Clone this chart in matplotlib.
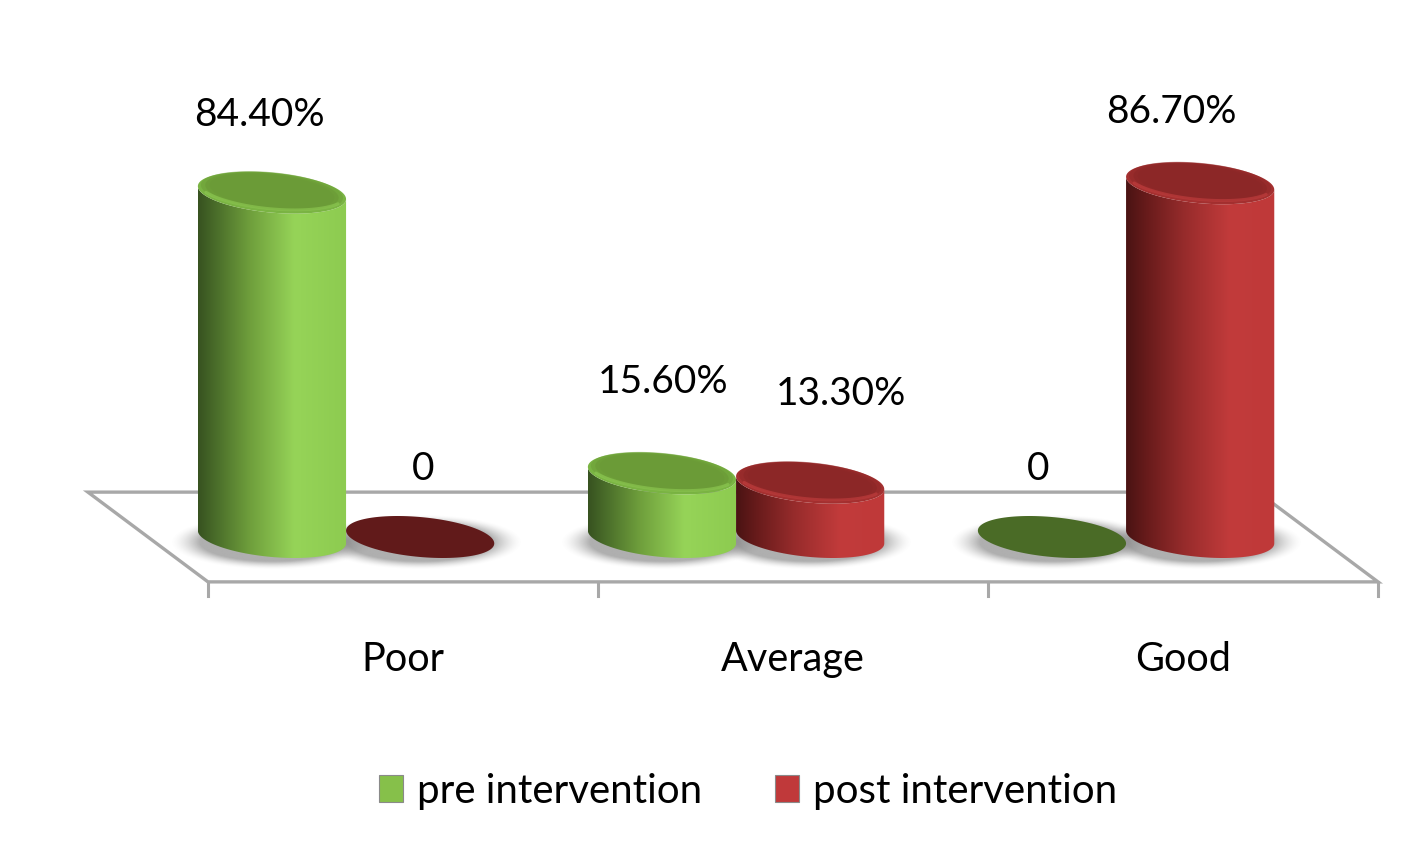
import numpy as np
import matplotlib.pyplot as plt
from matplotlib.colors import LinearSegmentedColormap, to_rgb
from matplotlib.patches import Polygon, Patch

categories = ['Poor', 'Average', 'Good']
series = ['pre intervention', 'post intervention']
pre_values = [84.4, 15.6, 0]
post_values = [0, 13.3, 86.7]
value_labels_pre = ['84.40%', '15.60%', '0']
value_labels_post = ['0', '13.30%', '86.70%']

plt.rcParams['font.family'] = ['Lato', 'DejaVu Sans']

fig = plt.figure(figsize=(14.09, 8.45), dpi=100)
ax = fig.add_axes([0, 0, 1, 1])
ax.set_axis_off()

# geometry (category units on x, percent on y)
depth_dx = -0.308     # shift of the back edge of the floor
floor_half = 11.0     # floor half depth in percent units
bar_a = 0.19          # half width of a cylinder
bar_b = 4.9           # half height of the ellipse
shear = 8.3           # tilt of the ellipses
bar_shift = depth_dx / 2 + 0.008
label_gap = 19
# small label nudges (points), like the hand-placed labels of the original
nudge_pre = [(-9, 1), (1, 11), (-10, -6)]
nudge_post = [(2, -6), (22, 9), (-21, -4)]


def ellipse_pts(cx, cy, t, a=bar_a, b=bar_b):
    x = cx + a * np.cos(t)
    y = cy + b * np.sin(t) - shear * bar_a * np.cos(t)
    return x, y


# floor
n = len(categories)
front_y, back_y = -floor_half, floor_half
floor = [(-0.5, front_y), (n - 0.5, front_y),
         (n - 0.5 + depth_dx, back_y), (-0.5 + depth_dx, back_y)]
ax.add_patch(Polygon(floor, closed=True, fc='white', ec='#a8a8a8', lw=2.4, zorder=1))
for i in range(n + 1):
    ax.plot([i - 0.5, i - 0.5], [front_y, front_y - 3.4], color='#a8a8a8', lw=2.2, zorder=1)

green = LinearSegmentedColormap.from_list(
    'g', [(0, '#375220'), (0.12, '#4a6d2a'), (0.35, '#6f9f3c'),
          (0.65, '#96d458'), (1, '#8dcb50')])
red = LinearSegmentedColormap.from_list(
    'r', [(0, '#4a1313'), (0.15, '#6a1c1c'), (0.4, '#982c2c'),
          (0.7, '#c23b3b'), (1, '#bf3939')])
styles = [
    dict(cmap=green, rim='#7ab443', top='#6b9b37', hi='#92cf56', flat='#4a6b26', icon='#86c04a'),
    dict(cmap=red, rim='#a43030', top='#8c2727', hi='#c94141', flat='#611a1a', icon='#c0393a'),
]

t_full = np.linspace(0, 2 * np.pi, 120)
t_front = np.linspace(np.pi, 2 * np.pi, 80)
grad = np.linspace(0, 1, 256).reshape(1, -1)

# soft shadows under every bar
gx = np.linspace(-1.5, 1.5, 160)
gy = np.linspace(-2.6, 2.0, 90)
GX, GY = np.meshgrid(gx, gy)
dist = np.sqrt(GX ** 2 + (GY + 0.25) ** 2)
shadow = np.zeros(GX.shape + (4,))
shadow[..., :3] = to_rgb('#7a7a7a')
shadow[..., 3] = 0.6 * np.clip((1.38 - dist) / 0.4, 0, 1) ** 1.6

for s, vals in enumerate([pre_values, post_values]):
    for i, v in enumerate(vals):
        cx = i + bar_shift + (2 * s - 1) * bar_a
        ax.imshow(shadow, origin='lower', aspect='auto', interpolation='bilinear',
                  extent=[cx - 1.5 * bar_a, cx + 1.5 * bar_a, -2.6 * bar_b, 2.0 * bar_b],
                  zorder=2)

for s, vals in enumerate([pre_values, post_values]):
    st = styles[s]
    for i, v in enumerate(vals):
        cx = i + bar_shift + (2 * s - 1) * bar_a
        if v == 0:
            xs, ys = ellipse_pts(cx, 0, t_full)
            ax.fill(xs, ys, color=st['flat'], lw=0, zorder=3)
            continue
        z = 3 + s * 0.1
        bx, by = ellipse_pts(cx, 0, t_front)
        tx, ty = ellipse_pts(cx, v, t_front[::-1])
        side = Polygon(np.column_stack([np.r_[bx, tx], np.r_[by, ty]]),
                       closed=True, fc='none', ec='none', zorder=z)
        ax.add_patch(side)
        im = ax.imshow(grad, cmap=st['cmap'], aspect='auto', interpolation='bilinear',
                       extent=[cx - bar_a, cx + bar_a, -bar_b - 3, v + bar_b + 3],
                       zorder=z)
        im.set_clip_path(side)
        # top with a soft bevelled rim
        xs, ys = ellipse_pts(cx, v, t_full)
        ax.fill(xs, ys, color=st['rim'], lw=0, zorder=z + 0.01)
        for k, al in [(0.96, 0.5), (0.9, 0.7), (0.84, 1.0)]:
            xs, ys = ellipse_pts(cx, v + 0.3, t_full, a=bar_a * k, b=bar_b * k)
            ax.fill(xs, ys, color=st['top'], alpha=al, lw=0, zorder=z + 0.02)
        rx, ry = ellipse_pts(cx, v, np.linspace(1.15 * np.pi, 1.85 * np.pi, 60))
        ax.plot(rx, ry + 0.9, color=st['hi'], lw=2.2, alpha=0.55,
                solid_capstyle='round', zorder=z + 0.03)

    labels = [value_labels_pre, value_labels_post][s]
    nudges = [nudge_pre, nudge_post][s]
    for i, v in enumerate(vals):
        cx = i + bar_shift + (2 * s - 1) * bar_a
        ax.annotate(labels[i], (cx, v + label_gap), xytext=nudges[i],
                    textcoords='offset points', ha='center', va='center',
                    fontsize=28, color='black', zorder=5)

for i, c in enumerate(categories):
    ax.text(i, -29.8, c, ha='center', va='center', fontsize=28.5, color='black')

handles = [Patch(fc=styles[k]['icon'], ec='#8a8a8a', lw=0.8) for k in range(2)]
fig.legend(handles, series, loc='center', bbox_to_anchor=(0.531, 0.063), ncol=2,
           frameon=False, fontsize=29, handlelength=0.6, handleheight=0.65,
           handletextpad=0.35, columnspacing=1.8)

ax.set_xlim(-403 / 390, (1409 - 403) / 390)
ax.set_ylim((538 - 845) / 4.08, 538 / 4.08)

fig.savefig('out.png', dpi=100, facecolor='white')
